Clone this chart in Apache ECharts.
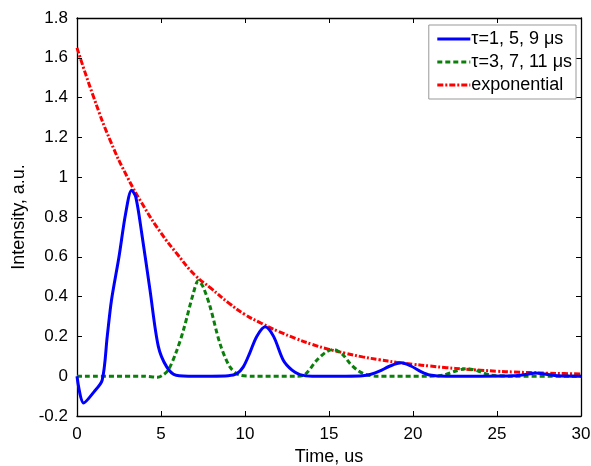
<!DOCTYPE html>
<html>
<head>
<meta charset="utf-8">
<script src="https://cdn.jsdelivr.net/npm/echarts@6/dist/echarts.min.js"></script>
<style>html,body{margin:0;padding:0;background:#fff;}#c{width:591px;height:466px;}</style>
</head>
<body>
<div id="c"></div>
<script>
var seriesNames = ['\u03c4=1, 5, 9 \u03bcs', '\u03c4=3, 7, 11 \u03bcs', 'exponential'];

var blueT = [0, 0.4, 1.0, 1.5, 1.8, 2.05, 2.5, 2.9, 3.25, 3.5, 3.85, 4.35, 4.84, 5.34, 5.9, 7, 8, 9, 9.5, 9.9, 10.3, 10.7, 11.2, 11.7, 12.28, 12.8, 13.27, 14, 15, 16, 17, 17.5, 18, 18.6, 19.3, 19.9, 20.5, 21, 22, 24, 26, 26.8, 27.3, 27.9, 28.6, 30];
var blueY = [0, -0.135, -0.08, -0.02, 0.2, 0.38, 0.6, 0.82, 0.935, 0.9, 0.72, 0.43, 0.15, 0.047, 0.005, 0, 0, 0.002, 0.012, 0.047, 0.12, 0.2, 0.248, 0.2, 0.08, 0.03, 0.008, 0, 0, 0, 0.002, 0.01, 0.025, 0.05, 0.067, 0.05, 0.022, 0.006, 0, 0, 0.002, 0.01, 0.016, 0.01, 0.002, 0];

var greenT = [0, 4, 4.8, 5.1, 5.43, 5.9, 6.33, 6.92, 7.22, 7.5, 7.92, 8.51, 9.1, 9.7, 10.5, 13, 13.5, 14.27, 14.8, 15.26, 15.8, 16.25, 16.7, 17.14, 17.8, 21, 21.8, 22.5, 23.2, 23.9, 24.6, 26, 30];
var greenY = [0, 0, -0.005, 0.005, 0.03, 0.12, 0.23, 0.415, 0.48, 0.45, 0.35, 0.164, 0.047, 0.005, 0, 0, 0.005, 0.08, 0.12, 0.134, 0.11, 0.064, 0.03, 0.01, 0, 0, 0.005, 0.025, 0.038, 0.025, 0.006, 0, 0];

var expT = [0, 1, 2, 3, 4, 5, 6, 7, 8, 9, 10, 11, 12, 13, 14, 15, 16, 17, 18, 19, 20, 21, 22, 23, 24, 25, 26, 27, 28, 29, 30];
var expY = [1.65, 1.40, 1.18, 1.00, 0.85, 0.72, 0.61, 0.51, 0.44, 0.37, 0.31, 0.265, 0.225, 0.19, 0.16, 0.135, 0.115, 0.097, 0.083, 0.07, 0.06, 0.051, 0.043, 0.036, 0.030, 0.025, 0.021, 0.018, 0.015, 0.013, 0.011];

var xTicks = [0, 5, 10, 15, 20, 25, 30];
var yTicks = [-0.2, 0, 0.2, 0.4, 0.6, 0.8, 1, 1.2, 1.4, 1.6, 1.8];

function pairs(t, y) { return t.map(function (v, i) { return [v, y[i]]; }); }

var font = 'Liberation Sans, Arial, sans-serif';
var axisLine = { show: true, onZero: false, lineStyle: { color: '#000', width: 1.3 } };
var tick = { show: true, inside: true, length: 5, lineStyle: { color: '#000', width: 1 } };

var chart = echarts.init(document.getElementById('c'));
chart.setOption({
  animation: false,
  backgroundColor: '#fff',
  grid: { left: 77, top: 18, right: 10, bottom: 50, containLabel: false, outerBoundsMode: 'none' },
  legend: {
    right: 15, top: 25,
    orient: 'vertical',
    backgroundColor: '#fff',
    borderColor: '#999', borderWidth: 1,
    padding: [5, 4, 5, 7],
    itemWidth: 33, itemHeight: 12, itemGap: 5,
    itemStyle: { opacity: 0 },
    lineStyle: { width: 3 },
    textStyle: { fontFamily: font, fontSize: 18, color: '#000', padding: [0, 0, 0, -4] },
    data: seriesNames
  },
  xAxis: [{
    type: 'value', min: 0, max: 30, interval: 5, position: 'bottom',
    name: 'Time, us', nameLocation: 'middle', nameGap: 30,
    nameTextStyle: { fontFamily: font, fontSize: 18, color: '#000' },
    axisLine: axisLine, axisTick: tick, splitLine: { show: false },
    axisLabel: { fontFamily: font, fontSize: 17, color: '#000', margin: 10 }
  }, {
    type: 'value', min: 0, max: 30, interval: 5, position: 'top',
    axisLine: axisLine, axisTick: tick, splitLine: { show: false }, axisLabel: { show: false }
  }],
  yAxis: [{
    type: 'value', min: -0.2, max: 1.8, interval: 0.2, position: 'left',
    name: 'Intensity, a.u.', nameLocation: 'middle', nameGap: 43, nameRotate: 90,
    nameTextStyle: { fontFamily: font, fontSize: 18, color: '#000' },
    axisLine: axisLine, axisTick: tick, splitLine: { show: false },
    axisLabel: { fontFamily: font, fontSize: 17, color: '#000', margin: 9,
      formatter: function (v) { return String(Math.round(v * 10) / 10); } }
  }, {
    type: 'value', min: -0.2, max: 1.8, interval: 0.2, position: 'right',
    axisLine: axisLine, axisTick: tick, splitLine: { show: false }, axisLabel: { show: false }
  }],
  series: [{
    name: seriesNames[0], type: 'line', data: pairs(blueT, blueY),
    showSymbol: false, symbol: 'none', smooth: 0.3,
    lineStyle: { color: '#0000ff', width: 3 }, itemStyle: { color: '#0000ff' }, z: 3
  }, {
    name: seriesNames[1], type: 'line', data: pairs(greenT, greenY),
    showSymbol: false, symbol: 'none', smooth: 0.3,
    lineStyle: { color: '#0a800a', width: 3, type: [5, 3] }, itemStyle: { color: '#0a800a' }, z: 2
  }, {
    name: seriesNames[2], type: 'line', data: pairs(expT, expY),
    showSymbol: false, symbol: 'none', smooth: true,
    lineStyle: { color: '#ff0000', width: 3, type: [6, 2, 2, 2] }, itemStyle: { color: '#ff0000' }, z: 1
  }]
});
</script>
</body>
</html>
